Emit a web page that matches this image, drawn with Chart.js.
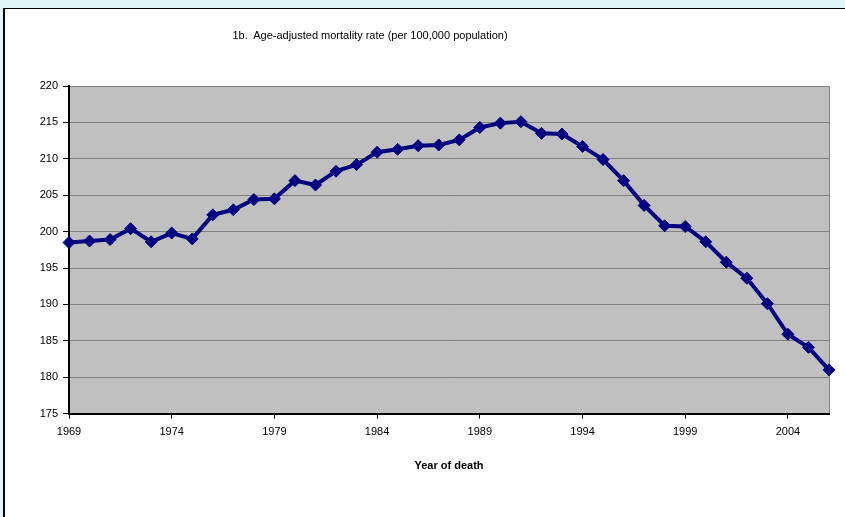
<!DOCTYPE html>
<html>
<head>
<meta charset="utf-8">
<script src="https://cdn.jsdelivr.net/npm/chart.js@4.4.0/dist/chart.umd.min.js"></script>
<style>
  html, body { margin: 0; padding: 0; background: #dff5f8; overflow: hidden; }
  #frame { position: absolute; left: 3px; top: 8px; width: 900px; height: 600px;
           background: #fff; border: 1px solid #000; border-left-width: 2px; }
  #wrap { position: absolute; left: 0; top: 0; width: 845px; height: 517px; }
  #title { position: absolute; left: 170px; width: 400px; top: 29px; text-align: center;
           font: 11px 'Liberation Sans', Arial, sans-serif; color: #000; white-space: pre; }
</style>
</head>
<body>
<div id="frame"></div>
<div id="wrap"><canvas id="chart" width="845" height="517"></canvas></div>
<div id="title">1b.  Age-adjusted mortality rate (per 100,000 population)</div>
<script>
const years = [1969, 1970, 1971, 1972, 1973, 1974, 1975, 1976, 1977, 1978,
  1979, 1980, 1981, 1982, 1983, 1984, 1985, 1986, 1987, 1988,
  1989, 1990, 1991, 1992, 1993, 1994, 1995, 1996, 1997, 1998,
  1999, 2000, 2001, 2002, 2003, 2004, 2005, 2006];
const mortality = [198.5, 198.7, 198.9, 200.4, 198.6, 199.8, 199.0, 202.3, 203.0, 204.4,
  204.5, 207.0, 206.4, 208.3, 209.2, 210.9, 211.3, 211.8, 211.9, 212.6,
  214.3, 214.9, 215.1, 213.5, 213.4, 211.7, 209.9, 207.0, 203.6, 200.8,
  200.7, 198.6, 195.8, 193.6, 190.1, 185.9, 184.1, 181.0];
const yTicks = [175, 180, 185, 190, 195, 200, 205, 210, 215, 220];

const FONT = 'Liberation Sans, Arial, sans-serif';

// gray plot background + gray top/right border
const plotBg = {
  id: 'plotBg',
  beforeDraw(chart) {
    const a = chart.chartArea, ctx = chart.ctx;
    ctx.save();
    ctx.fillStyle = '#c0c0c0';
    ctx.fillRect(a.left, a.top, a.right - a.left, a.bottom - a.top);
    ctx.strokeStyle = '#808080';
    ctx.lineWidth = 1;
    ctx.beginPath();
    ctx.moveTo(a.left, a.top + 0.5);
    ctx.lineTo(a.right + 0.5, a.top + 0.5);
    ctx.lineTo(a.right + 0.5, a.bottom);
    ctx.stroke();
    ctx.restore();
  }
};

new Chart(document.getElementById('chart'), {
  type: 'line',
  plugins: [plotBg],
  data: {
    labels: years,
    datasets: [{
      data: mortality,
      borderColor: '#000080',
      backgroundColor: '#000080',
      borderWidth: 4,
      pointStyle: 'rectRot',
      pointRadius: 6,
      pointBorderWidth: 1,
      tension: 0
    }]
  },
  options: {
    responsive: false,
    animation: false,
    events: [],
    layout: { padding: { left: 0, right: 16, top: 86, bottom: 44 } },
    plugins: {
      legend: { display: false },
      tooltip: { enabled: false },
      title: { display: false }
    },
    scales: {
      x: {
        type: 'category',
        offset: false,
        border: { color: '#000', width: 2 },
        grid: {
          drawOnChartArea: false,
          tickLength: 5,
          tickColor: ctx => (ctx.index % 5 === 0 ? '#000' : 'rgba(0,0,0,0)')
        },
        ticks: {
          autoSkip: false,
          maxRotation: 0,
          color: '#000',
          padding: 7,
          font: { family: FONT, size: 11 },
          callback: function (v, i) { return i % 5 === 0 ? years[i] : ''; }
        },
        title: {
          display: true,
          text: 'Year of death',
          color: '#000',
          font: { family: FONT, size: 11, weight: 'bold' },
          padding: { top: 14, bottom: 0 }
        }
      },
      y: {
        min: 175,
        max: 220,
        afterBuildTicks: scale => { scale.ticks = yTicks.map(v => ({ value: v })); },
        afterFit: scale => { scale.width = 69; },
        border: { color: '#000', width: 2 },
        grid: { color: '#808080', tickColor: '#000', tickLength: 6, lineWidth: 1 },
        ticks: {
          color: '#000',
          padding: 5,
          font: { family: FONT, size: 11 }
        }
      }
    }
  }
});
</script>
</body>
</html>
